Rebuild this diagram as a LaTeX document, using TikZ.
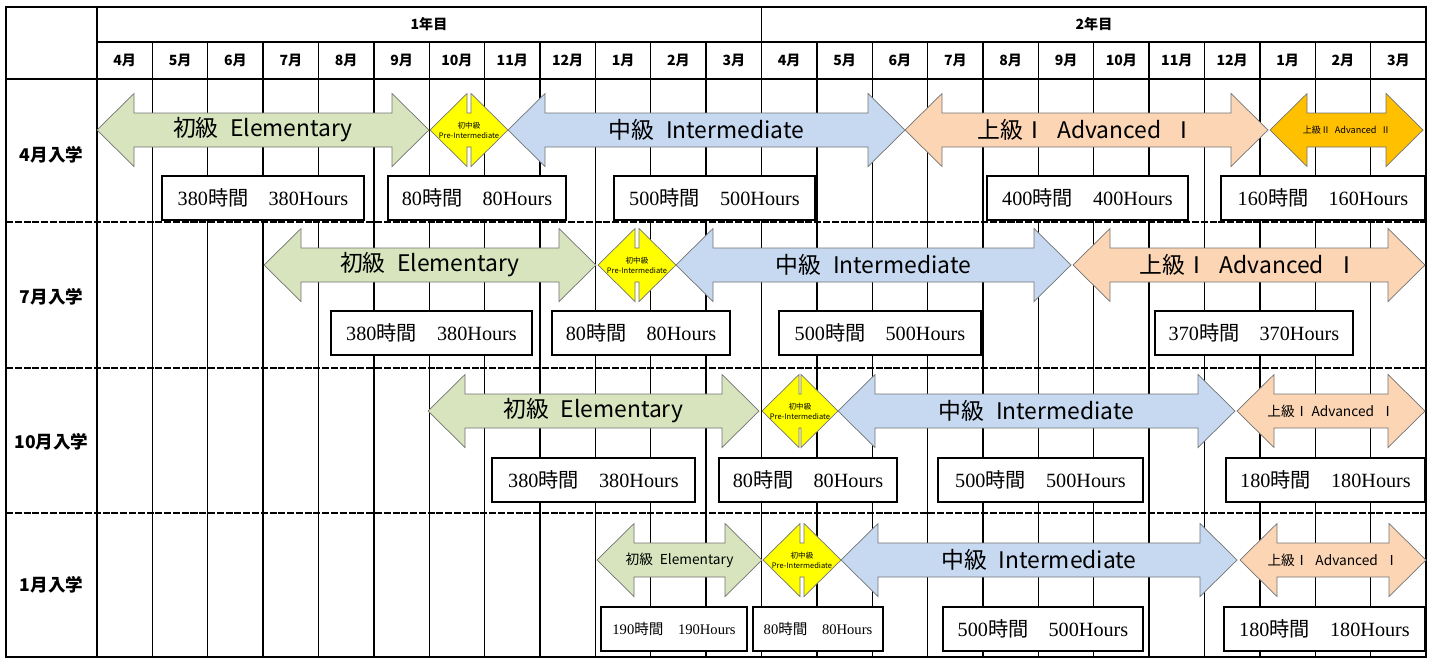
\documentclass[tikz,border=0pt]{standalone}
\usepackage{fontspec}
\setmainfont{Liberation Serif}
\newfontfamily\cjk{Noto Sans CJK JP}
\usepackage{xcolor}
\usepackage{tikz}

\definecolor{elemGreen}{HTML}{D7E4BD}
\definecolor{preYellow}{HTML}{FFFF00}
\definecolor{interBlue}{HTML}{C6D9F1}
\definecolor{advPeach}{HTML}{FCD5B5}
\definecolor{advGold}{HTML}{FFC000}

\tikzset{
    gridLine/.style={line width=0.8pt},
    rowSep/.style={line width=1.1pt, dash pattern=on 4pt off 1pt},
    monthLbl/.style={font=\cjk\bfseries\fontsize{8}{9}\selectfont},
    rowLbl/.style={font=\cjk\bfseries\fontsize{10}{12}\selectfont},
    hourBox/.style={draw, line width=0.6pt, fill=white, inner sep=0pt, font=\fontsize{11.5}{13}\selectfont},
    smallBox/.style={hourBox, font=\fontsize{8.3}{10}\selectfont},
    bigLbl/.style={font=\cjk\fontsize{13}{15}\selectfont},
    midLbl/.style={font=\cjk\fontsize{7.8}{9}\selectfont},
    tinyLbl/.style={font=\cjk\fontsize{5.2}{6}\selectfont},
    preLbl/.style={font=\cjk\fontsize{4.3}{5.7}\selectfont, align=center, inner sep=0pt},
}

% course arrow: name, label style, x left, x right, y mid, colour, text
\newcommand{\course}[7]{%
    \filldraw[fill=#6, draw=black!55, line width=0.4pt]
        (#3,#5) -- ++(37,-36.5) -- ++(0,19.5) -- ({#4-37},{#5-17}) -- ++(0,-19.5)
        -- (#4,#5) -- ++(-37,36.5) -- ++(0,-19.5) -- ({#3+37},{#5+17}) -- ++(0,19.5) -- cycle;
    \node[#2] (#1) at ({(#3+#4)/2},#5) {#7};
}
% hours box: name, style, x left, x right, y top, text
\newcommand{\hoursBox}[6]{%
    \node[#2, minimum width={(#4-#3)*0.02cm}, minimum height={44*0.02cm}] (#1) at ({(#3+#4)/2},{#5+22}) {#6};
}
\newcommand{\hrs}[1]{#1{\cjk 時間　}#1Hours}

\begin{document}
\begin{tikzpicture}[x=0.02cm, y=-0.02cm]
    \useasboundingbox (0,0) rectangle (1432,664);

    % Grid
    \foreach \k in {1,...,23}
        \draw[gridLine] ({97+55.375*\k},42) -- ({97+55.375*\k},657);
    \foreach \y in {222,368,513}
        \draw[rowSep] (6,\y) -- (1426,\y);
    \draw[line width=1.2pt] (6,7) rectangle (1426,657);
    \draw[line width=1.1pt] (97,7) -- (97,657);
    \draw[line width=1.1pt] (97,42) -- (1426,42);
    \draw[line width=1.1pt] (6,79) -- (1426,79);
    \draw[gridLine] (761.5,7) -- (761.5,42);

    % Header
    \node[monthLbl] (year1) at (429,24.5) {1年目};
    \node[monthLbl] (year2) at (1094,24.5) {2年目};
    \foreach \m [count=\k from 0] in {4,5,6,7,8,9,10,11,12,1,2,3,4,5,6,7,8,9,10,11,12,1,2,3}
        \node[monthLbl] (m\k) at ({97+55.375*(\k+0.5)},60.5) {{\m}月};

    % Row labels
    \node[rowLbl] (apr) at (51.5,155) {4月入学};
    \node[rowLbl] (jul) at (51.5,297) {7月入学};
    \node[rowLbl] (oct) at (51.5,442) {10月入学};
    \node[rowLbl] (jan) at (51.5,585) {1月入学};

    % 4月入学
    \course{aprElem}{bigLbl}{97}{429}{130}{elemGreen}{初級\enspace Elementary}
    \course{aprPre}{preLbl}{430}{508}{130}{preYellow}{初中級\\Pre-Intermediate}
    \course{aprInter}{bigLbl}{508}{905}{130}{interBlue}{中級\enspace Intermediate}
    \course{aprAdvA}{bigLbl}{905}{1268}{130}{advPeach}{上級Ⅰ\enspace Advanced\enspace Ⅰ}
    \course{aprAdvB}{tinyLbl}{1270}{1423}{130}{advGold}{上級Ⅱ\enspace Advanced\enspace Ⅱ}
    \hoursBox{aprElemH}{hourBox}{162}{364}{176}{\hrs{380}}
    \hoursBox{aprPreH}{hourBox}{388}{566}{176}{\hrs{80}}
    \hoursBox{aprInterH}{hourBox}{614}{815}{176}{\hrs{500}}
    \hoursBox{aprAdvAH}{hourBox}{987}{1188}{176}{\hrs{400}}
    \hoursBox{aprAdvBH}{hourBox}{1221}{1425}{176}{\hrs{160}}

    % 7月入学
    \course{julElem}{bigLbl}{264}{596}{265}{elemGreen}{初級\enspace Elementary}
    \course{julPre}{preLbl}{598}{676}{265}{preYellow}{初中級\\Pre-Intermediate}
    \course{julInter}{bigLbl}{676}{1071}{265}{interBlue}{中級\enspace Intermediate}
    \course{julAdvA}{bigLbl}{1073}{1425}{265}{advPeach}{上級Ⅰ\enspace Advanced\enspace Ⅰ}
    \hoursBox{julElemH}{hourBox}{331}{532}{311}{\hrs{380}}
    \hoursBox{julPreH}{hourBox}{552}{730}{311}{\hrs{80}}
    \hoursBox{julInterH}{hourBox}{779}{981}{311}{\hrs{500}}
    \hoursBox{julAdvAH}{hourBox}{1155}{1353}{311}{\hrs{370}}

    % 10月入学
    \course{octElem}{bigLbl}{428}{759}{411}{elemGreen}{初級\enspace Elementary}
    \course{octPre}{preLbl}{762}{838}{411}{preYellow}{初中級\\Pre-Intermediate}
    \course{octInter}{bigLbl}{838}{1235}{411}{interBlue}{中級\enspace Intermediate}
    \course{octAdvA}{midLbl}{1237}{1425}{411}{advPeach}{上級Ⅰ Advanced\enspace Ⅰ}
    \hoursBox{octElemH}{hourBox}{492}{695}{458}{\hrs{380}}
    \hoursBox{octPreH}{hourBox}{719}{897}{458}{\hrs{80}}
    \hoursBox{octInterH}{hourBox}{938}{1143}{458}{\hrs{500}}
    \hoursBox{octAdvAH}{hourBox}{1226}{1425}{458}{\hrs{180}}

    % 1月入学
    \course{janElem}{midLbl}{597}{762}{560}{elemGreen}{初級\enspace Elementary}
    \course{janPre}{preLbl}{763}{841}{560}{preYellow}{初中級\\Pre-Intermediate}
    \course{janInter}{bigLbl}{841}{1237}{560}{interBlue}{中級\enspace Intermediate}
    \course{janAdvA}{midLbl}{1240}{1426}{560}{advPeach}{上級Ⅰ\enspace Advanced\enspace Ⅰ}
    \hoursBox{janElemH}{smallBox}{601}{747}{607}{\hrs{190}}
    \hoursBox{janPreH}{smallBox}{753}{883}{607}{\hrs{80}}
    \hoursBox{janInterH}{hourBox}{943}{1143}{607}{\hrs{500}}
    \hoursBox{janAdvAH}{hourBox}{1224}{1425}{607}{\hrs{180}}
\end{tikzpicture}
\end{document}
